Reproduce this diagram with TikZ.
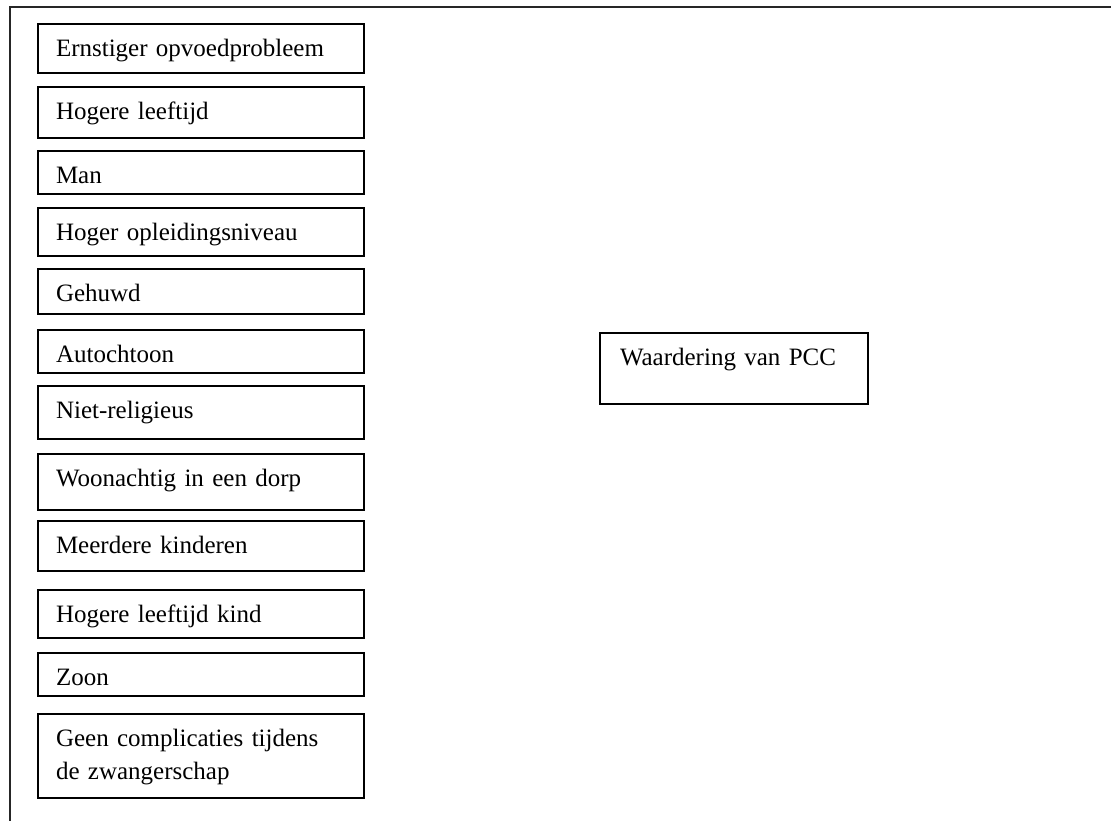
\documentclass[tikz,border=0pt]{standalone}
\usepackage{fontspec}
\setmainfont{Liberation Serif}
\tikzset{
  factor/.style={draw=black, line width=2pt, anchor=north west, align=left,
    inner xsep=18pt, inner ysep=0pt, text height=32.5pt,
    font=\fontsize{25}{33}\selectfont},
  frame/.style={line width=2.5pt, draw=black!85}
}
\newcommand{\fbx}[5]{% name, x, top, height, text
  \node[factor, text width=290pt, minimum width=326pt, text depth=#4pt-32.5pt] (#1) at (#2,#3) {#5};}
\begin{document}
\begin{tikzpicture}[x=1pt,y=-1pt]
\useasboundingbox (0,0) rectangle (1111,821);
\fill[white] (0,0) rectangle (1111,821);
\coordinate (fbl) at (10,821);
\coordinate (ftl) at (10,7);
\coordinate (ftr) at (1111,7);
\draw[frame] (fbl) -- (ftl) -- (ftr);
\fbx{f1}{37}{23}{49}{Ernstiger opvoedprobleem}
\fbx{f2}{37}{86}{51}{Hogere leeftijd}
\fbx{f3}{37}{150}{43}{Man}
\fbx{f4}{37}{207}{48}{Hoger opleidingsniveau}
\fbx{f5}{37}{268}{45}{Gehuwd}
\fbx{f6}{37}{329}{43}{Autochtoon}
\fbx{f7}{37}{385}{53}{Niet-religieus}
\fbx{f8}{37}{453}{56}{Woonachtig in een dorp}
\fbx{f9}{37}{520}{50}{Meerdere kinderen}
\fbx{f10}{37}{589}{48}{Hogere leeftijd kind}
\fbx{f11}{37}{652}{43}{Zoon}
\fbx{f12}{37}{713}{84}{Geen complicaties tijdens\\de zwangerschap}
\node[factor, inner xsep=20pt, text width=228pt, minimum width=268pt, text depth=71pt-32.5pt] (pcc) at (599,332) {Waardering van PCC};
\end{tikzpicture}
\end{document}
